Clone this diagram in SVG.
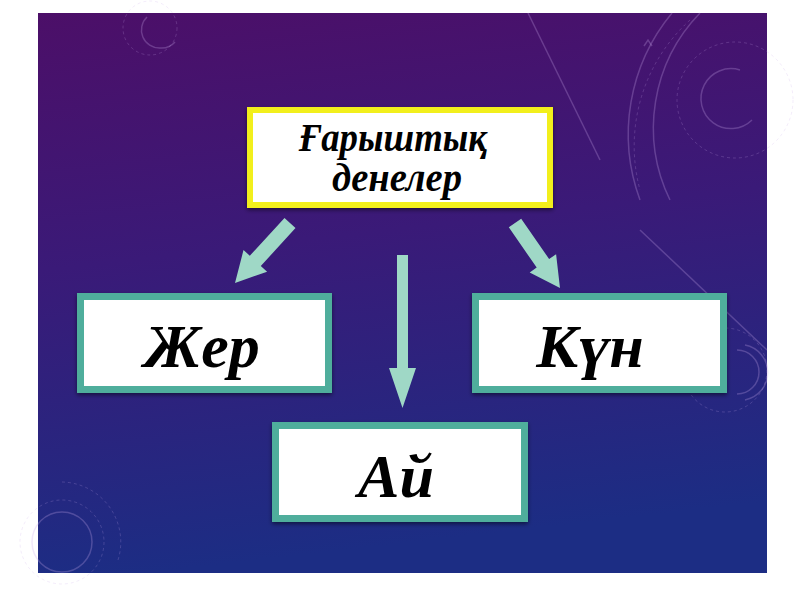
<svg xmlns="http://www.w3.org/2000/svg" width="800" height="600" viewBox="0 0 800 600">
  <defs>
    <linearGradient id="bg" x1="0" y1="0" x2="0.15" y2="1">
      <stop offset="0" stop-color="#4c0f68"/>
      <stop offset="0.45" stop-color="#3a1a78"/>
      <stop offset="1" stop-color="#1c2d84"/>
    </linearGradient>
    <filter id="sh" x="-10%" y="-10%" width="120%" height="130%">
      <feDropShadow dx="0" dy="2" stdDeviation="2" flood-color="#000" flood-opacity="0.5"/>
    </filter>
  </defs>
  <style>
    .deco { fill: none; stroke: #c9a8e8; stroke-opacity: 0.28; stroke-width: 1.5; }
    .dash { fill: none; stroke: #c9a8e8; stroke-opacity: 0.22; stroke-width: 1; stroke-dasharray: 3 3; }
    .box { fill: #ffffff; stroke: #4fae9c; stroke-width: 7; }
    .top { fill: #ffffff; stroke: #f2ef1e; stroke-width: 6; }
    .lbl { font-family: "Liberation Serif", "Times New Roman", serif; font-weight: bold; font-style: italic; fill: #000; text-anchor: middle; }
    .arr { fill: #9fd8c6; }
  </style>
  <rect width="800" height="600" fill="#ffffff"/>
  <rect x="38" y="13" width="729" height="560" fill="url(#bg)"/>
  <g id="decor">
    <path class="deco" d="M147 17 A18 18 0 0 0 160 48 A18 18 0 0 0 175 42"/>
    <circle class="dash" cx="150" cy="28" r="27"/>
    <line class="deco" x1="528" y1="13" x2="600" y2="160" stroke-opacity="0.15"/>
    <path class="deco" d="M672 13 A190 190 0 0 0 640 200"/>
    <path class="deco" d="M700 13 A165 165 0 0 0 670 200"/>
    <path class="dash" d="M690 20 A170 170 0 0 0 640 190" stroke-width="4" stroke-dasharray="1 3"/>
    <circle class="dash" cx="735" cy="100" r="58"/>
    <path class="deco" d="M740 70 A30 30 0 1 0 752 120"/>
    <path class="deco" d="M644 46 l4 -6 l4 6" />
    <line class="deco" x1="640" y1="230" x2="767" y2="350" stroke-opacity="0.12"/>
    <path class="deco" d="M737 350 A22 22 0 0 1 737 394"/>
    <path class="deco" d="M745 345 A28 28 0 0 1 745 400"/>
    <circle class="dash" cx="725" cy="370" r="42"/>
    <circle class="deco" cx="62" cy="542" r="30"/>
    <circle class="dash" cx="62" cy="542" r="42"/>
    <path class="dash" d="M62 482 A60 60 0 0 1 118 560"/>
  </g>
  <g id="connectors">
    <polygon class="arr" points="295.5,228.1 260.8,266.0 267.1,271.7 235,283 243.5,250.1 249.8,255.8 284.5,217.9"/>
    <polygon class="arr" points="397,255 408,255 408,368 416,368 402.5,408 389,368 397,368"/>
    <polygon class="arr" points="508.8,227.3 536.7,267.6 529.7,272.4 560,288 556.1,254.2 549.1,259.0 521.2,218.7"/>
  </g>
  <g id="node-top">
    <rect class="top" x="250" y="110" width="300" height="95" filter="url(#sh)"/>
    <text class="lbl" x="393" y="151" font-size="39" textLength="188" lengthAdjust="spacingAndGlyphs">Ғарыштық</text>
    <text class="lbl" x="397" y="191" font-size="39" textLength="130" lengthAdjust="spacingAndGlyphs">денелер</text>
  </g>
  <g id="node-zher">
    <rect class="box" x="80.5" y="296.5" width="248" height="93" filter="url(#sh)"/>
    <text class="lbl" x="202" y="367" font-size="62">Жер</text>
  </g>
  <g id="node-kun">
    <rect class="box" x="475.5" y="296.5" width="248" height="93" filter="url(#sh)"/>
    <text class="lbl" x="590" y="367" font-size="62">Күн</text>
  </g>
  <g id="node-ai">
    <rect class="box" x="275.5" y="425.5" width="249" height="93" filter="url(#sh)"/>
    <text class="lbl" x="396" y="497" font-size="62">Ай</text>
  </g>
</svg>
